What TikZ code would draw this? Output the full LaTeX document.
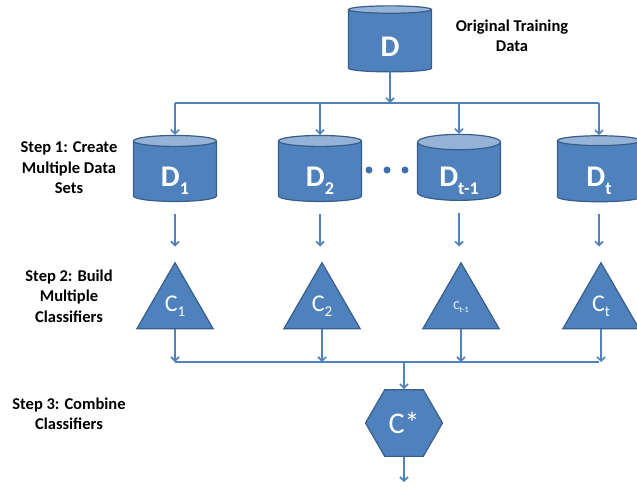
\documentclass[tikz,border=0pt]{standalone}
\usepackage{fontspec}
\setmainfont{Carlito}
\usetikzlibrary{shapes.geometric,arrows.meta}
\definecolor{boxblue}{HTML}{4F81BD}
\definecolor{edgeblue}{HTML}{385D8A}
\definecolor{capblue}{HTML}{95B3D7}
\definecolor{dotblue}{HTML}{3F6FAE}
% lowered index in a smaller size
\newcommand\lowidx[3]{{\fontsize{#1}{#1}\selectfont\raisebox{-#2}{#3}}}
% cylinder label, set on the node centre line and dropped into the body
\newcommand\bodytext[1]{\raisebox{-15pt}[0pt][0pt]{#1}}
\begin{document}
\begin{tikzpicture}[x=1pt,y=-1pt,
  store/.style={cylinder, shape border rotate=90, aspect=0.39,
    draw=edgeblue, line width=1.2pt, cylinder uses custom fill,
    cylinder body fill=boxblue, cylinder end fill=capblue,
    minimum width=83pt, minimum height=66pt, inner sep=0pt,
    text=white, font=\fontsize{30}{30}\selectfont\bfseries},
  learner/.style={regular polygon, regular polygon sides=3,
    minimum size=88pt, inner sep=0pt, fill=boxblue, draw=edgeblue,
    line width=1.2pt, text=white, font=\fontsize{24}{24}\selectfont},
  combiner/.style={regular polygon, regular polygon sides=6,
    minimum size=77pt, inner sep=0pt, fill=boxblue, draw=edgeblue,
    line width=1.2pt, text=white, font=\fontsize{30}{30}\selectfont},
  steplabel/.style={align=center, text=black,
    font=\fontsize{16.5}{20.5}\selectfont\bfseries},
  conn/.style={draw=boxblue, line width=1.6pt},
  arr/.style={conn, -{Straight Barb[length=4pt,width=8pt]}}
]
\useasboundingbox (0,0) rectangle (637,488);

% data sets
\node[store] (D)  at (390,41)    {\bodytext{D}};
\node[store] (D1) at (175,171.5) {\bodytext{D\lowidx{18}{8pt}{1}}};
\node[store] (D2) at (320,171.5) {\bodytext{D\lowidx{18}{8pt}{2}}};
\node[store] (D3) at (459,171.5) {\bodytext{D\lowidx{18}{8pt}{t-1}}};
\node[store] (D4) at (599,171.5) {\bodytext{D\lowidx{18}{8pt}{t}}};

\fill[dotblue] (369,170) circle (3.5pt);
\fill[dotblue] (387,170) circle (3.5pt);
\fill[dotblue] (405,170) circle (3.5pt);

% classifiers
\node[learner] (C1) at (175,306.7) {C\lowidx{15}{5pt}{1}};
\node[learner] (C2) at (322,306.7) {C\lowidx{15}{5pt}{2}};
\node[learner] (C3) at (461,306.7) {\raisebox{-7pt}{\fontsize{12}{12}\selectfont C\lowidx{8}{3pt}{t-1}}};
\node[learner] (C4) at (601,306.7) {C\lowidx{15}{5pt}{t}};

% combined classifier
\node[combiner] (Cs) at (404,423) {C*};

% labels
\node[steplabel] (lorig) at (512,36)  {Original Training\\Data};
\node[steplabel] (ls1)   at (69,168)  {Step 1: Create\\Multiple Data\\Sets};
\node[steplabel] (ls2)   at (69,296)  {Step 2: Build\\Multiple\\Classifiers};
\node[steplabel] (ls3)   at (69,414)  {Step 3: Combine\\Classifiers};

% distribution bus
\coordinate (b1L) at (175,103);
\coordinate (b1R) at (599,103);
\draw[conn] (b1L) -- (b1R);
\draw[arr] (D.south) -- (D.south |- b1L);
\draw[arr] (b1L) -- (D1.north);
\draw[arr] (D2.north |- b1L) -- (D2.north);
\draw[arr] (D3.north |- b1L) -- (D3.north);
\draw[arr] (b1R) -- (D4.north);

% data sets feed the classifiers
\draw[arr, shorten <=12pt, shorten >=15pt] (D1.south) -- (D1.south |- C1.north);
\draw[arr, shorten <=12pt, shorten >=15pt] (D2.south) -- (D2.south |- C2.north);
\draw[arr, shorten <=12pt, shorten >=15pt] (D3.south) -- (D3.south |- C3.north);
\draw[arr, shorten <=12pt, shorten >=15pt] (D4.south) -- (D4.south |- C4.north);

% collection bus
\coordinate (b2L) at (175,362);
\coordinate (b2R) at (599,362);
\draw[conn] (b2L) -- (b2R);
\draw[arr] (C1.south) -- (C1.south |- b2L);
\draw[arr] (C2.south) -- (C2.south |- b2L);
\draw[arr] (C3.south) -- (C3.south |- b2L);
\draw[arr] (C4.south) -- (C4.south |- b2L);
\draw[arr] (Cs.north |- b2L) -- (Cs.north);
\coordinate (out) at (404,482);
\draw[arr] (Cs.south) -- (out);
\end{tikzpicture}
\end{document}
